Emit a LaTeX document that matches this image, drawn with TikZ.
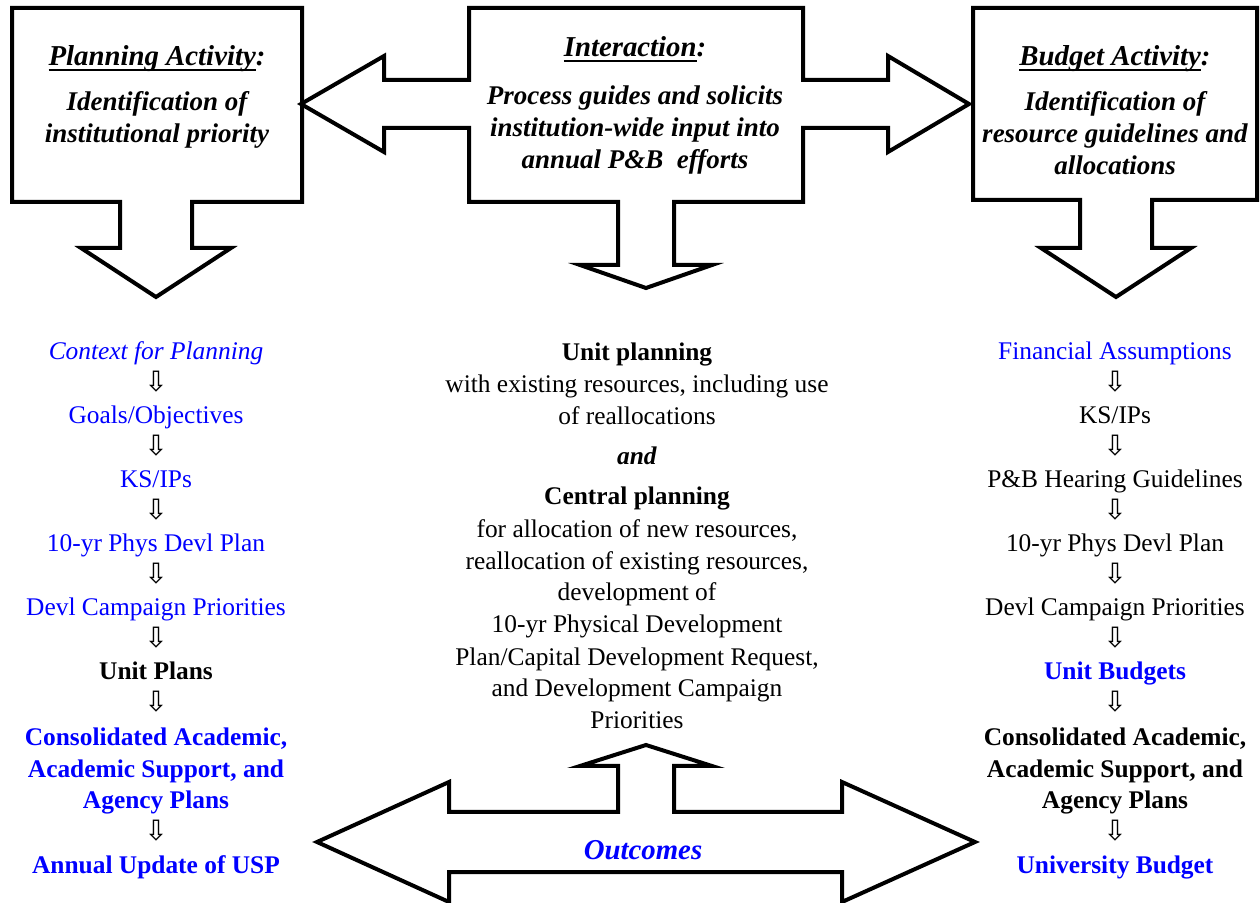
\documentclass[tikz,border=0pt]{standalone}
\usepackage{fontspec}
\setmainfont{Liberation Serif}
\newfontfamily\arrowfont{DejaVu Sans}
\definecolor{planblue}{RGB}{0,0,255}
\newsavebox\ulbox
\newcommand{\ulword}[1]{\sbox\ulbox{#1}\rlap{\rule[-2.6pt]{\wd\ulbox}{1pt}}\usebox\ulbox}

\tikzset{
  bigshape/.style={draw=black, line width=2pt, line join=miter, fill=white},
  headtext/.style={font=\fontsize{14.4}{17}\selectfont\bfseries\itshape, anchor=base, inner sep=0pt},
  boxtext/.style={font=\fontsize{13.5}{16}\selectfont\bfseries\itshape, align=center, anchor=base, inner sep=0pt},
  item/.style={font=\fontsize{12.7}{16}\selectfont, align=center, anchor=base, inner sep=0pt},
  itemb/.style={item, font=\fontsize{12.7}{16}\selectfont\bfseries},
  blueitem/.style={item, text=planblue},
  bluebold/.style={itemb, text=planblue},
  dnarr/.style={font=\arrowfont\fontsize{14}{16}\selectfont, anchor=base, inner sep=0pt}
}

\begin{document}
\begin{tikzpicture}[x=0.5pt, y=-0.5pt]

    \useasboundingbox (0,0) rectangle (1260,903);

    % three activity boxes
    \draw[bigshape] (12,8) -- (302,8) -- (302,202) -- (192,202) -- (192,248) -- (231,248) -- (156,297)
        -- (81,248) -- (120,248) -- (120,202) -- (12,202) -- cycle;
    \draw[bigshape] (469,8) -- (803,8) -- (803,80) -- (888,80) -- (888,56) -- (969,104) -- (888,152)
        -- (888,128) -- (803,128) -- (803,202) -- (674,202) -- (674,265) -- (712,265) -- (646,288)
        -- (580,265) -- (618,265) -- (618,202) -- (469,202) -- (469,128) -- (384,128) -- (384,152)
        -- (301,104) -- (384,56) -- (384,80) -- (469,80) -- cycle;
    \draw[bigshape] (973,8) -- (1257,8) -- (1257,200) -- (1152,200) -- (1152,248) -- (1191,248) -- (1116,297)
        -- (1041,248) -- (1080,248) -- (1080,200) -- (973,200) -- cycle;

    % outcomes arrow
    \draw[bigshape] (646,745) -- (712,766) -- (674,766) -- (674,812) -- (842,812) -- (842,782) -- (975,842)
        -- (842,902) -- (842,872) -- (449,872) -- (449,902) -- (317,842) -- (449,782) -- (449,812)
        -- (618,812) -- (618,766) -- (580,766) -- cycle;

    % multi-line nodes sit on their last line
    \node[headtext] (PlAc) at (157,66) {\ulword{Planning Activity}:};
    \node[boxtext] (PlAcTx) at (157,143) {Identification of\\institutional priority};
    \node[headtext] (InAc) at (635,57) {\ulword{Interaction}:};
    \node[boxtext] (InAcTx) at (635,169) {Process guides and solicits\\institution-wide input into\\annual P\&B~ efforts};
    \node[headtext] (BuAc) at (1115,66) {\ulword{Budget Activity}:};
    \node[boxtext] (BuAcTx) at (1115,175) {Identification of\\resource guidelines and\\allocations};

    % planning column
    \node[blueitem] (CoPl) at (156,360) {\textit{Context for Planning}};
    \node[blueitem] (GoOb) at (156,424) {Goals/Objectives};
    \node[blueitem] (KSIPl) at (156,488) {KS/IPs};
    \node[blueitem] (PhPl) at (156,552) {10-yr Phys Devl Plan};
    \node[blueitem] (CaPl) at (156,616) {Devl Campaign Priorities};
    \node[itemb] (UnPl) at (156,680) {Unit Plans};
    \node[bluebold] (CoAcPl) at (156,809) {Consolidated Academic,\\Academic Support, and\\Agency Plans};
    \node[bluebold] (AnUp) at (156,873) {Annual Update of USP};

    \path (CoPl.base) -- node[dnarr] {⇩} (GoOb.base);
    \path (GoOb.base) -- node[dnarr] {⇩} (KSIPl.base);
    \path (KSIPl.base) -- node[dnarr] {⇩} (PhPl.base);
    \path (PhPl.base) -- node[dnarr] {⇩} (CaPl.base);
    \path (CaPl.base) -- node[dnarr] {⇩} (UnPl.base);
    \path (UnPl.base) -- node[dnarr, pos=0.248] {⇩} (CoAcPl.base);
    \path (CoAcPl.base) -- node[dnarr] {⇩} (AnUp.base);

    % budget column
    \node[blueitem] (FiAs) at (1115,360) {Financial Assumptions};
    \node[item] (KSIPb) at (1115,424) {KS/IPs};
    \node[item] (HeGu) at (1115,488) {P\&B Hearing Guidelines};
    \node[item] (PhBu) at (1115,552) {10-yr Phys Devl Plan};
    \node[item] (CaBu) at (1115,616) {Devl Campaign Priorities};
    \node[bluebold] (UnBu) at (1115,680) {Unit Budgets};
    \node[itemb] (CoAcBu) at (1115,809) {Consolidated Academic,\\Academic Support, and\\Agency Plans};
    \node[bluebold] (UniBu) at (1115,873) {University Budget};

    \path (FiAs.base) -- node[dnarr] {⇩} (KSIPb.base);
    \path (KSIPb.base) -- node[dnarr] {⇩} (HeGu.base);
    \path (HeGu.base) -- node[dnarr] {⇩} (PhBu.base);
    \path (PhBu.base) -- node[dnarr] {⇩} (CaBu.base);
    \path (CaBu.base) -- node[dnarr] {⇩} (UnBu.base);
    \path (UnBu.base) -- node[dnarr, pos=0.248] {⇩} (CoAcBu.base);
    \path (CoAcBu.base) -- node[dnarr] {⇩} (UniBu.base);

    % interaction column
    \node[item] (UnPlan) at (637,425) {\textbf{Unit planning}\\with existing resources, including use\\of reallocations};
    \node[item] (And) at (637,465) {\textbf{\textit{and}}};
    \node[item] (CePlan) at (637,729) {\textbf{Central planning}\\for allocation of new resources,\\reallocation of existing resources,\\development of\\10-yr Physical Development\\Plan/Capital Development Request,\\and Development Campaign\\Priorities};

    \node[headtext, text=planblue] (Outc) at (643,860) {Outcomes};

  \end{tikzpicture}
\end{document}
